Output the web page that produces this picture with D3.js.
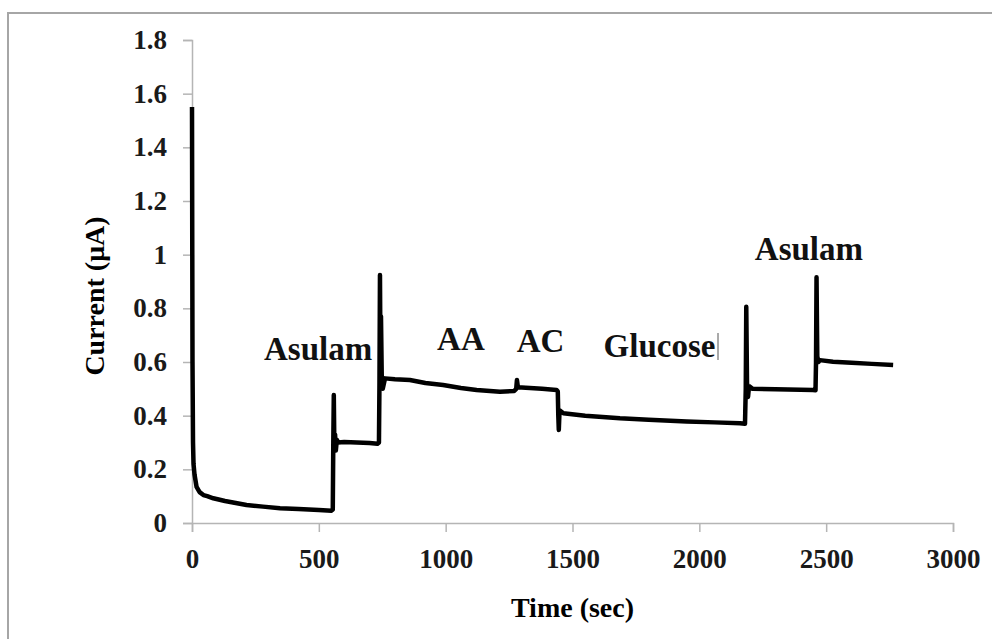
<!DOCTYPE html>
<html lang="en">
<head>
  <meta charset="utf-8">
  <title>Amperometric response</title>
  <script src="https://d3js.org/d3.v7.min.js"></script>
  <style>
    body { margin: 0; background: #fff; }
    text { font-family: "Liberation Serif", "Times New Roman", serif; font-weight: bold; }
  </style>
</head>
<body>
<script>
// time (sec) and current (µA)
var time = [0, 2, 4, 6, 10, 18, 30, 45, 60, 84, 130, 215, 280, 347, 420, 500, 550, 555,
  557, 559, 561, 564, 567, 571, 576, 600, 650, 700, 731,
  737, 739, 741, 743, 745, 748, 752, 761, 800, 859, 920, 990, 1060, 1122, 1214, 1270,
  1278, 1281, 1285, 1300, 1380, 1437, 1442,
  1444, 1446, 1449, 1464, 1550, 1687, 1800, 1950, 2060, 2160, 2180,
  2183, 2185, 2188, 2192, 2196, 2210, 2300, 2448, 2458,
  2460, 2462, 2465, 2470, 2475, 2527, 2600, 2680, 2764];
var current = [1.55, 0.60, 0.30, 0.22, 0.18, 0.135, 0.115, 0.104, 0.100, 0.092, 0.082, 0.067, 0.061, 0.055, 0.052, 0.048, 0.046, 0.05,
  0.30, 0.477, 0.30, 0.33, 0.27, 0.31, 0.30, 0.302, 0.300, 0.298, 0.295,
  0.30, 0.52, 0.924, 0.60, 0.77, 0.55, 0.50, 0.539, 0.536, 0.533, 0.522, 0.514, 0.503, 0.496, 0.489, 0.492,
  0.50, 0.533, 0.505, 0.505, 0.50, 0.496, 0.49,
  0.40, 0.347, 0.42, 0.409, 0.40, 0.39, 0.385, 0.378, 0.375, 0.372, 0.37,
  0.50, 0.806, 0.52, 0.47, 0.51, 0.50, 0.498, 0.496, 0.495,
  0.60, 0.916, 0.62, 0.60, 0.607, 0.601, 0.597, 0.593, 0.589];

var xTicks = [0, 500, 1000, 1500, 2000, 2500, 3000];
var yTicks = [0, 0.2, 0.4, 0.6, 0.8, 1, 1.2, 1.4, 1.6, 1.8];

var labelText = ["Asulam", "AA", "AC", "Glucose", "Asulam"];
var labelTime = [497, 1060, 1374, 1843, 2432];
var labelCurrent = [0.607, 0.645, 0.637, 0.619, 0.98];

var W = 992, H = 639;
var svg = d3.select("body").append("svg")
    .attr("width", W)
    .attr("height", H);

// outer frame
svg.append("rect")
    .attr("x", 8).attr("y", 13)
    .attr("width", 1000).attr("height", 700)
    .attr("fill", "none")
    .attr("stroke", "#a6a6a6")
    .attr("stroke-width", 2);

var x = d3.scaleLinear().domain([0, 3000]).range([192, 953]);
var y = d3.scaleLinear().domain([0, 1.8]).range([523, 40]);

var xAxis = svg.append("g")
    .attr("transform", "translate(0," + y(0) + ")")
    .call(d3.axisBottom(x).tickValues(xTicks).tickSize(9).tickPadding(17)
      .tickFormat(d3.format("d")));
var yAxis = svg.append("g")
    .attr("transform", "translate(" + x(0) + ",0)")
    .call(d3.axisLeft(y).tickValues(yTicks).tickSize(9).tickPadding(16)
      .tickFormat(function(d) { return d3.format("")(+d.toFixed(1)); }));

[xAxis, yAxis].forEach(function(a) {
  a.select(".domain").attr("stroke", "#b5b5b5").attr("stroke-width", 1.5);
  a.selectAll(".tick line").attr("stroke", "#b5b5b5").attr("stroke-width", 1.5);
  a.selectAll(".tick text")
    .attr("font-family", "Liberation Serif, Times New Roman, serif")
    .attr("font-weight", "bold")
    .attr("font-size", 27)
    .attr("fill", "#1a1a1a");
});

svg.append("text")
    .attr("x", (x(0) + x(3000)) / 2)
    .attr("y", 617)
    .attr("text-anchor", "middle")
    .attr("font-size", 28)
    .text("Time (sec)");

svg.append("text")
    .attr("transform", "translate(104," + 296 + ") rotate(-90)")
    .attr("text-anchor", "middle")
    .attr("font-size", 28)
    .text("Current (\u03bcA)");

var line = d3.line()
    .x(function(d, i) { return x(time[i]); })
    .y(function(d) { return y(d); });

svg.append("path")
    .datum(current)
    .attr("d", line)
    .attr("fill", "none")
    .attr("stroke", "#000")
    .attr("stroke-width", 4.5)
    .attr("stroke-linejoin", "round");

svg.selectAll(".note")
    .data(labelText)
    .enter()
    .append("text")
    .attr("class", "note")
    .attr("x", function(d, i) { return x(labelTime[i]); })
    .attr("y", function(d, i) { return y(labelCurrent[i]); })
    .attr("text-anchor", "middle")
    .attr("font-size", 33)
    .attr("fill", "#111")
    .text(function(d) { return d; });

// text-box edge left behind by the Glucose label
svg.append("line")
    .attr("x1", 718).attr("x2", 718)
    .attr("y1", 333).attr("y2", 360)
    .attr("stroke", "#555")
    .attr("stroke-width", 1);
</script>
</body>
</html>
